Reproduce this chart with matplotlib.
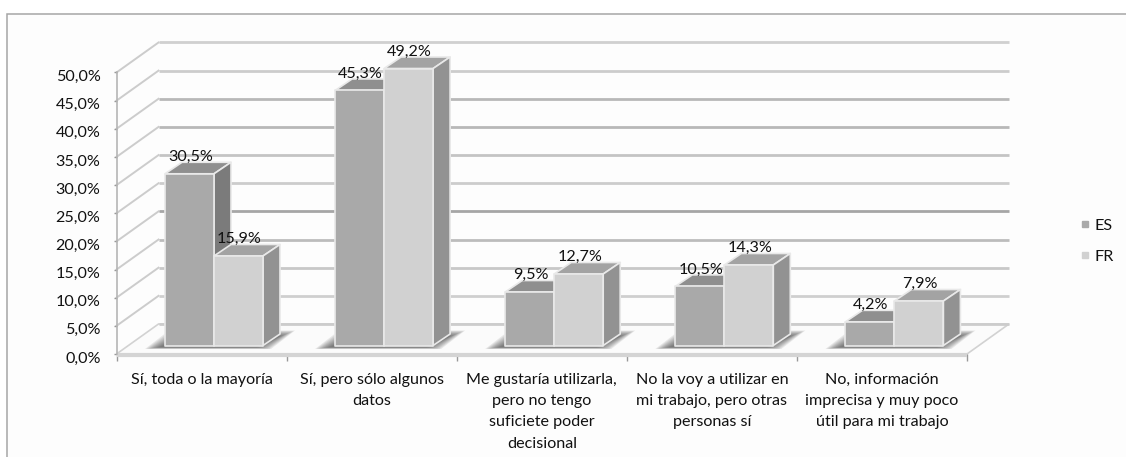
import matplotlib
matplotlib.use("Agg")
import matplotlib.pyplot as plt
from matplotlib.patches import Polygon, Rectangle
from matplotlib.lines import Line2D
from matplotlib.transforms import ScaledTranslation

plt.rcParams['font.family'] = ['Lato', 'DejaVu Sans']

categories = ["Sí, toda o la mayoría",
              "Sí, pero sólo algunos\ndatos",
              "Me gustaría utilizarla,\npero no tengo\nsuficiete poder\ndecisional",
              "No la voy a utilizar en\nmi trabajo, pero otras\npersonas sí",
              "No, información\nimprecisa y muy poco\nútil para mi trabajo"]
es_values = [30.5, 45.3, 9.5, 10.5, 4.2]
fr_values = [15.9, 49.2, 12.7, 14.3, 7.9]
y_ticks = [0, 5, 10, 15, 20, 25, 30, 35, 40, 45, 50]
grid_colors = ["#cccccc", "#cfcfcf", "#c8c8c8", "#bcbcbc", "#a6a6a6", "#cccccc",
               "#c4c4c4", "#b8b8b8", "#b8b8b8", "#cccccc", "#d0d0d0"]

W, H = 1126, 457
FONT = 11.6
fig = plt.figure(figsize=(W / 100, H / 100), dpi=100, facecolor="white")

# frame, only top and left are visible in the picture
bg = fig.add_axes([0, 0, 1, 1], zorder=0)
bg.set_xlim(0, W)
bg.set_ylim(H, 0)
bg.axis("off")
bg.add_patch(Rectangle((7, 14), W, H, facecolor="#fdfdfd", edgecolor="#a6a6a6", lw=1.1))

# front plane of the fake 3d box: one unit per category, y in percent
ax_left, ax_right, ax_top, ax_bottom = 116.5, 967, 72.5, 354
ax = fig.add_axes([ax_left / W, 1 - ax_bottom / H, (ax_right - ax_left) / W, (ax_bottom - ax_top) / H],
                  zorder=1)
ax.set_xlim(0, 5)
ax.set_ylim(0, 50)
ax.patch.set_alpha(0)
for s in ax.spines.values():
    s.set_visible(False)

px_x = 5 / (ax_right - ax_left)
px_y = 50 / (ax_bottom - ax_top)
wall_dx, wall_dy = 42 * px_x, 30 * px_y
bar_dx, bar_dy = 17 * px_x, 11.5 * px_y
base_y = 8.5 * px_y
bar_w = 49 * px_x
bar_start = 48.5 * px_x


def poly(points, **kw):
    ax.add_patch(Polygon(points, closed=True, clip_on=False, **kw))


# floor
poly([(0, 0), (5, 0), (5 + wall_dx, wall_dy), (wall_dx, wall_dy)],
     facecolor="#fbfbfb", edgecolor="#d2d2d2", lw=1.2, zorder=1)
ax.plot([0, 5], [-0.1, -0.1], color="#d4d4d4", lw=3, clip_on=False, zorder=2, solid_capstyle="butt")

# gridlines on the side and back walls
for tick, col in zip(y_ticks, grid_colors):
    if tick > 0:
        ax.plot([0, wall_dx], [tick, tick + wall_dy], color="#cccccc", lw=1.4, clip_on=False, zorder=1)
    ax.plot([wall_dx, 5 + wall_dx], [tick + wall_dy, tick + wall_dy], color=col, lw=2.0,
            clip_on=False, zorder=1, solid_capstyle="butt")


def bar3d(x, v, front, top, side, z):
    x2 = x + bar_w
    y1 = base_y
    y2 = base_y + v
    edge = dict(edgecolor="#e9e9e9", lw=1.2, joinstyle="round", zorder=z)
    poly([(x, y2), (x2, y2), (x2 + bar_dx, y2 + bar_dy), (x + bar_dx, y2 + bar_dy)], facecolor=top, **edge)
    poly([(x2, y1), (x2 + bar_dx, y1 + bar_dy), (x2 + bar_dx, y2 + bar_dy), (x2, y2)], facecolor=side, **edge)
    poly([(x, y1), (x2, y1), (x2, y2), (x, y2)], facecolor=front, **edge)


# soft shadow on the floor, stacked transparent shapes shrinking towards the middle
for i in range(5):
    left = i + bar_start
    right = left + 2 * bar_w
    for k in range(10):
        g = k * 1.6
        poly([(left - (20 - g) * px_x, base_y - (3.5 - k * 0.2) * px_y),
              (right + (8 - g) * px_x, base_y - (3.5 - k * 0.2) * px_y),
              (right + (32 - g) * px_x, base_y + (15 - g * 0.4) * px_y),
              (left + (4 + g) * px_x, base_y + (15 - g * 0.4) * px_y)],
             facecolor="#444444", edgecolor="none", alpha=0.11, zorder=3)

for i in range(5):
    x_es = i + bar_start
    x_fr = x_es + bar_w
    bar3d(x_es, es_values[i], "#a9a9a9", "#8f8f8f", "#7b7b7b", 4 + i)
    bar3d(x_fr, fr_values[i], "#d1d1d1", "#a3a3a3", "#929292", 4 + i + 0.5)
    ax.text(x_es + bar_w * 0.52, es_values[i] + base_y + 3.0, f"{es_values[i]:.1f}%".replace(".", ","),
            ha="center", va="center", fontsize=FONT, color="#111111", zorder=20)
    ax.text(x_fr + bar_w * 0.52, fr_values[i] + base_y + 3.0, f"{fr_values[i]:.1f}%".replace(".", ","),
            ha="center", va="center", fontsize=FONT, color="#111111", zorder=20)

# axes
ax.set_yticks(y_ticks)
ax.set_yticklabels([f"{t:.1f}%".replace(".", ",") for t in y_ticks], fontsize=FONT, color="#111111")
ax.set_xticks(range(6))
ax.set_xticklabels([])
ax.tick_params(axis="y", length=2.5, width=1, color="#999999", pad=9, direction="out")
ax.tick_params(axis="x", length=5, width=1, color="#999999", direction="out", pad=0)
ax.spines["left"].set_visible(True)
ax.spines["left"].set_color("#b5b5b5")
ax.spines["left"].set_linewidth(1.2)
shift = ScaledTranslation(0, -3 / 100, fig.dpi_scale_trans)
for lab in ax.get_yticklabels():
    lab.set_transform(lab.get_transform() + shift)

for i, label in enumerate(categories):
    ax.annotate(label, xy=(i + 0.5, 0), xytext=(0, -13.5), textcoords="offset points",
                ha="center", va="top", fontsize=FONT, color="#111111", linespacing=1.66,
                annotation_clip=False)

# legend
handles = [Line2D([], [], marker="s", ls="", color="#a9a9a9", ms=5),
           Line2D([], [], marker="s", ls="", color="#d1d1d1", ms=5)]
fig.legend(handles, ["ES", "FR"], loc="center left", bbox_to_anchor=(1061 / W, 1 - 241 / H), frameon=False,
           fontsize=FONT, labelspacing=1.05, handletextpad=0.0, handlelength=1.2, labelcolor="#111111")

fig.savefig("out.png", dpi=100)
